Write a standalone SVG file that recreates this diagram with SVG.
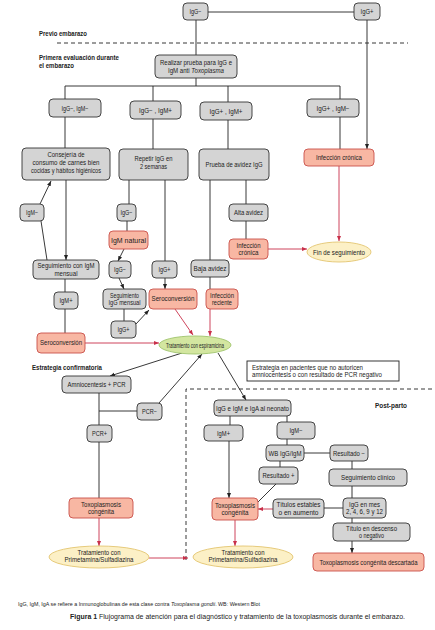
<svg xmlns="http://www.w3.org/2000/svg" width="435" height="630" viewBox="0 0 435 630">
<defs>
<style>
.g{fill:#d4d4d4;stroke:#333;stroke-width:0.9}
.r{fill:#f8b7a3;stroke:#c9504b;stroke-width:0.9}
.y{fill:#fcf0c6;stroke:#e3c570;stroke-width:0.9}
.gr{fill:#d3e6a0;stroke:#9fc46c;stroke-width:0.9}
.w{fill:#fff;stroke:#222;stroke-width:0.9}
text{font-family:"Liberation Sans Narrow","Liberation Sans",Arial,sans-serif;font-size:6.6px;fill:#222}
.c{text-anchor:middle}
.b{font-weight:bold}
.ln{stroke:#222;stroke-width:0.9;fill:none}
.rl{stroke:#c8304a;stroke-width:0.9;fill:none}
.ds{stroke:#222;stroke-width:0.9;fill:none;stroke-dasharray:4 3}
</style>
<marker id="ab" viewBox="0 0 10 10" refX="10" refY="5" markerWidth="5" markerHeight="5" orient="auto" markerUnits="userSpaceOnUse"><path d="M0,1 L10,5 L0,9 z" fill="#222"/></marker>
<marker id="ar" viewBox="0 0 10 10" refX="10" refY="5" markerWidth="5" markerHeight="5" orient="auto" markerUnits="userSpaceOnUse"><path d="M0,1 L10,5 L0,9 z" fill="#c8304a"/></marker>
</defs>
<rect width="435" height="630" fill="#fff"/>

<g id="labels">
<text x="39" y="36" class="b" textLength="48" lengthAdjust="spacingAndGlyphs">Previo embarazo</text>
<text x="39" y="60" class="b" textLength="80" lengthAdjust="spacingAndGlyphs">Primera evaluación durante</text>
<text x="39" y="68" class="b" textLength="35" lengthAdjust="spacingAndGlyphs">el embarazo</text>
<text x="32" y="370" class="b" textLength="70" lengthAdjust="spacingAndGlyphs">Estrategia confirmatoria</text>
<text x="375" y="408" class="b" textLength="32" lengthAdjust="spacingAndGlyphs">Post-parto</text>
<line x1="57" y1="43" x2="408" y2="43" class="ds"/>
<path d="M186,560 L186,389 L432,389" class="ds"/>
</g>

<g id="connectors">
<line x1="208" y1="12" x2="354" y2="12" class="ln"/>
<line x1="367" y1="20" x2="367" y2="149" class="ln" marker-end="url(#ab)"/>
<line x1="196" y1="20" x2="196" y2="55" class="ln"/>
<line x1="196" y1="78" x2="196" y2="86" class="ln"/>
<line x1="65" y1="86" x2="340" y2="86" class="ln"/>
<line x1="65" y1="86" x2="65" y2="99" class="ln"/>
<line x1="153" y1="86" x2="153" y2="101" class="ln"/>
<line x1="228" y1="86" x2="228" y2="102" class="ln"/>
<line x1="340" y1="86" x2="340" y2="99" class="ln"/>
<line x1="65" y1="117" x2="65" y2="148" class="ln"/>
<line x1="153" y1="119" x2="153" y2="149" class="ln"/>
<line x1="228" y1="120" x2="228" y2="149" class="ln"/>
<line x1="340" y1="117" x2="340" y2="149" class="ln"/>
<line x1="339" y1="166" x2="339" y2="241" class="rl" marker-end="url(#ar)"/>
<line x1="246" y1="180" x2="246" y2="204" class="ln"/>
<line x1="246" y1="221" x2="246" y2="239" class="ln"/>
<line x1="268" y1="249" x2="307" y2="249" class="rl" marker-end="url(#ar)"/>
<line x1="210" y1="180" x2="210" y2="260" class="ln"/>
<line x1="210" y1="277" x2="210" y2="289" class="ln"/>
<line x1="210" y1="309" x2="210" y2="336" class="rl" marker-end="url(#ar)"/>
<line x1="175" y1="309" x2="193" y2="335" class="rl" marker-end="url(#ar)"/>
<line x1="66" y1="180" x2="66" y2="260" class="ln" marker-end="url(#ab)"/>
<line x1="40" y1="204" x2="51" y2="181" class="ln" marker-end="url(#ab)"/>
<line x1="41" y1="221" x2="47" y2="260" class="ln"/>
<line x1="65" y1="279" x2="65" y2="292" class="ln"/>
<line x1="65" y1="309" x2="65" y2="333" class="ln"/>
<line x1="85" y1="343" x2="159" y2="343" class="rl" marker-end="url(#ar)"/>
<line x1="129" y1="180" x2="129" y2="204" class="ln"/>
<line x1="127" y1="221" x2="127" y2="231" class="ln"/>
<line x1="124" y1="249" x2="118" y2="261" class="ln" marker-end="url(#ab)"/>
<line x1="119" y1="278" x2="124" y2="289" class="ln" marker-end="url(#ab)"/>
<line x1="124" y1="309" x2="124" y2="321" class="ln"/>
<line x1="136" y1="324" x2="149" y2="310" class="ln" marker-end="url(#ab)"/>
<line x1="165" y1="180" x2="165" y2="261" class="ln"/>
<line x1="165" y1="278" x2="165" y2="289" class="ln" marker-end="url(#ab)"/>
<line x1="182" y1="353" x2="110" y2="376" class="ln" marker-end="url(#ab)"/>
<line x1="99" y1="393" x2="99" y2="425" class="ln"/>
<line x1="99" y1="411" x2="137" y2="411" class="ln"/>
<line x1="159" y1="403" x2="202" y2="354" class="ln" marker-end="url(#ab)"/>
<line x1="99" y1="442" x2="99" y2="498" class="ln"/>
<line x1="99" y1="518" x2="99" y2="546" class="rl" marker-end="url(#ar)"/>
<line x1="149" y1="558" x2="188" y2="558" class="rl" marker-end="url(#ar)"/>
<line x1="218" y1="353" x2="246" y2="400" class="ln" marker-end="url(#ab)"/>
<line x1="230" y1="416" x2="230" y2="425" class="ln"/>
<line x1="229" y1="441" x2="229" y2="498" class="ln" marker-end="url(#ab)"/>
<line x1="287" y1="416" x2="287" y2="422" class="ln"/>
<line x1="287" y1="439" x2="287" y2="445" class="ln"/>
<line x1="304" y1="453" x2="330" y2="453" class="ln"/>
<line x1="280" y1="461" x2="280" y2="467" class="ln"/>
<line x1="276" y1="484" x2="257" y2="503" class="ln"/>
<line x1="352" y1="461" x2="352" y2="469" class="ln"/>
<line x1="352" y1="486" x2="352" y2="498" class="ln"/>
<line x1="352" y1="518" x2="352" y2="523" class="ln"/>
<line x1="352" y1="541" x2="352" y2="553" class="ln" marker-end="url(#ab)"/>
<line x1="343" y1="508" x2="324" y2="508" class="ln"/>
<line x1="273" y1="509" x2="258" y2="509" class="rl" marker-end="url(#ar)"/>
<line x1="235" y1="520" x2="235" y2="546" class="rl" marker-end="url(#ar)"/>
</g>

<g id="n_igg_neg"><rect x="183" y="3" width="25" height="17" rx="4" class="g"/><text x="195.5" y="14" class="c" textLength="12" lengthAdjust="spacingAndGlyphs">IgG−</text></g>
<g id="n_igg_pos"><rect x="354" y="3" width="26" height="17" rx="4" class="g"/><text x="367" y="14" class="c" textLength="13" lengthAdjust="spacingAndGlyphs">IgG+</text></g>
<g id="n_realizar"><rect x="155" y="55" width="82" height="23" rx="4" class="g"/><text x="196" y="65" class="c" textLength="72" lengthAdjust="spacingAndGlyphs">Realizar prueba para IgG e</text><text x="196" y="73" class="c" textLength="56" lengthAdjust="spacingAndGlyphs">IgM anti <tspan font-style="italic">Toxoplasma</tspan></text></g>
<g id="n_b1"><rect x="49" y="99" width="52" height="18" rx="4" class="g"/><text x="75" y="110.5" class="c" textLength="27" lengthAdjust="spacingAndGlyphs">IgG−, IgM−</text></g>
<g id="n_b2"><rect x="130" y="101" width="51" height="18" rx="4" class="g"/><text x="155.5" y="112.5" class="c" textLength="33" lengthAdjust="spacingAndGlyphs">IgG− , IgM+</text></g>
<g id="n_b3"><rect x="200" y="102" width="52" height="18" rx="4" class="g"/><text x="226" y="113.5" class="c" textLength="33" lengthAdjust="spacingAndGlyphs">IgG+ , IgM+</text></g>
<g id="n_b4"><rect x="307" y="99" width="52" height="18" rx="4" class="g"/><text x="333" y="110.5" class="c" textLength="33" lengthAdjust="spacingAndGlyphs">IgG+ , IgM−</text></g>
<g id="n_consejeria"><rect x="22" y="148" width="88" height="32" rx="4" class="g"/><text x="66" y="157" class="c" textLength="37" lengthAdjust="spacingAndGlyphs">Consejería de</text><text x="66" y="165" class="c" textLength="67" lengthAdjust="spacingAndGlyphs">consumo de carnes bien</text><text x="66" y="173" class="c" textLength="70" lengthAdjust="spacingAndGlyphs">cocidas y hábitos higiénicos</text></g>
<g id="n_repetir"><rect x="119" y="149" width="69" height="31" rx="4" class="g"/><text x="153.5" y="161" class="c" textLength="38" lengthAdjust="spacingAndGlyphs">Repetir IgG en</text><text x="153.5" y="169" class="c" textLength="27" lengthAdjust="spacingAndGlyphs">2 semanas</text></g>
<g id="n_prueba"><rect x="199" y="149" width="70" height="31" rx="4" class="g"/><text x="234" y="167" class="c" textLength="57" lengthAdjust="spacingAndGlyphs">Prueba de avidez IgG</text></g>
<g id="n_infcron1"><rect x="304" y="149" width="70" height="17" rx="4" class="r"/><text x="339" y="160" class="c" textLength="46" lengthAdjust="spacingAndGlyphs">Infección crónica</text></g>
<g id="n_fin"><ellipse cx="339" cy="252" rx="32" ry="10" class="y"/><text x="339" y="254.5" class="c" textLength="52" lengthAdjust="spacingAndGlyphs">Fin de seguimiento</text></g>
<g id="n_altaav"><rect x="229" y="204" width="39" height="17" rx="4" class="g"/><text x="248.5" y="215" class="c" textLength="29" lengthAdjust="spacingAndGlyphs">Alta avidez</text></g>
<g id="n_infcron2"><rect x="229" y="239" width="39" height="20" rx="4" class="r"/><text x="248.5" y="247.5" class="c" textLength="24" lengthAdjust="spacingAndGlyphs">Infección</text><text x="248.5" y="255" class="c" textLength="20" lengthAdjust="spacingAndGlyphs">crónica</text></g>
<g id="n_igmneg"><rect x="20" y="204" width="24" height="17" rx="4" class="g"/><text x="32" y="215" class="c" textLength="12" lengthAdjust="spacingAndGlyphs">IgM−</text></g>
<g id="n_segigm"><rect x="33" y="260" width="66" height="19" rx="4" class="g"/><text x="66" y="268" class="c" textLength="57" lengthAdjust="spacingAndGlyphs">Seguimiento con IgM</text><text x="66" y="275.5" class="c" textLength="23" lengthAdjust="spacingAndGlyphs">mensual</text></g>
<g id="n_igmpos"><rect x="54" y="292" width="24" height="17" rx="4" class="g"/><text x="66" y="303" class="c" textLength="13" lengthAdjust="spacingAndGlyphs">IgM+</text></g>
<g id="n_sero1"><rect x="37" y="333" width="48" height="20" rx="4" class="r"/><text x="61" y="345" class="c" textLength="42" lengthAdjust="spacingAndGlyphs">Seroconversión</text></g>
<g id="n_iggneg1"><rect x="117" y="204" width="19" height="17" rx="4" class="g"/><text x="126.5" y="215" class="c" textLength="12" lengthAdjust="spacingAndGlyphs">IgG−</text></g>
<g id="n_igmnat"><rect x="109" y="231" width="39" height="18" rx="4" class="r"/><text x="128.5" y="242.5" class="c" textLength="35" lengthAdjust="spacingAndGlyphs">IgM natural</text></g>
<g id="n_iggneg2"><rect x="109" y="261" width="22" height="17" rx="4" class="g"/><text x="120" y="272" class="c" textLength="12" lengthAdjust="spacingAndGlyphs">IgG−</text></g>
<g id="n_segiggm"><rect x="103" y="289" width="43" height="20" rx="4" class="g"/><text x="124.5" y="297.5" class="c" textLength="29" lengthAdjust="spacingAndGlyphs">Seguimiento</text><text x="124.5" y="305" class="c" textLength="32" lengthAdjust="spacingAndGlyphs">IgG mensual</text></g>
<g id="n_iggpos3"><rect x="111" y="321" width="25" height="17" rx="4" class="g"/><text x="123.5" y="332" class="c" textLength="12" lengthAdjust="spacingAndGlyphs">IgG+</text></g>
<g id="n_iggpos2"><rect x="152" y="261" width="25" height="17" rx="4" class="g"/><text x="164.5" y="272" class="c" textLength="12" lengthAdjust="spacingAndGlyphs">IgG+</text></g>
<g id="n_sero2"><rect x="149" y="289" width="48" height="20" rx="4" class="r"/><text x="173" y="301" class="c" textLength="43" lengthAdjust="spacingAndGlyphs">Seroconversión</text></g>
<g id="n_baja"><rect x="191" y="260" width="38" height="17" rx="4" class="g"/><text x="210" y="271" class="c" textLength="33" lengthAdjust="spacingAndGlyphs">Baja avidez</text></g>
<g id="n_infrec"><rect x="206" y="289" width="32" height="20" rx="4" class="r"/><text x="222" y="297.5" class="c" textLength="24" lengthAdjust="spacingAndGlyphs">Infección</text><text x="222" y="305" class="c" textLength="20" lengthAdjust="spacingAndGlyphs">reciente</text></g>
<g id="n_espir"><ellipse cx="195" cy="345" rx="36" ry="9" class="gr"/><text x="195" y="347.5" class="c" textLength="58" lengthAdjust="spacingAndGlyphs">Tratamiento con espiramicina</text></g>
<g id="n_amnio"><rect x="62" y="376" width="69" height="17" rx="4" class="g"/><text x="96.5" y="387" class="c" textLength="58" lengthAdjust="spacingAndGlyphs">Amniocentesis + PCR</text></g>
<g id="n_pcrneg"><rect x="137" y="403" width="25" height="17" rx="4" class="g"/><text x="149.5" y="414" class="c" textLength="15" lengthAdjust="spacingAndGlyphs">PCR−</text></g>
<g id="n_pcrpos"><rect x="87" y="425" width="25" height="17" rx="4" class="g"/><text x="99.5" y="436" class="c" textLength="15" lengthAdjust="spacingAndGlyphs">PCR+</text></g>
<g id="n_toxo1"><rect x="69" y="498" width="64" height="20" rx="4" class="r"/><text x="101" y="506.5" class="c" textLength="40" lengthAdjust="spacingAndGlyphs">Toxoplasmosis</text><text x="101" y="514" class="c" textLength="26" lengthAdjust="spacingAndGlyphs">congénita</text></g>
<g id="n_trat1"><ellipse cx="99" cy="557" rx="50" ry="11" class="y"/><text x="99" y="554.5" class="c" textLength="43" lengthAdjust="spacingAndGlyphs">Tratamiento con</text><text x="99" y="562" class="c" textLength="69" lengthAdjust="spacingAndGlyphs">Primetamina/Sulfadiazina</text></g>
<g id="n_estrategia"><rect x="247" y="361" width="152" height="20" class="w"/><text x="252" y="369.5" textLength="111" lengthAdjust="spacingAndGlyphs">Estrategia en pacientes que no autoricen</text><text x="252" y="377" textLength="130" lengthAdjust="spacingAndGlyphs">amniocentesis o con resultado de PCR negativo</text></g>
<g id="n_neonato"><rect x="214" y="400" width="77" height="16" rx="4" class="g"/><text x="252.5" y="410.5" class="c" textLength="73" lengthAdjust="spacingAndGlyphs">IgG e IgM e IgA al neonato</text></g>
<g id="n_igmpos_p"><rect x="204" y="425" width="39" height="16" rx="4" class="g"/><text x="223.5" y="435.5" class="c" textLength="13" lengthAdjust="spacingAndGlyphs">IgM+</text></g>
<g id="n_igmneg_p"><rect x="277" y="422" width="38" height="17" rx="4" class="g"/><text x="296" y="433" class="c" textLength="13" lengthAdjust="spacingAndGlyphs">IgM−</text></g>
<g id="n_wb"><rect x="266" y="445" width="38" height="16" rx="4" class="g"/><text x="285" y="455.5" class="c" textLength="33" lengthAdjust="spacingAndGlyphs">WB IgG/IgM</text></g>
<g id="n_resneg"><rect x="330" y="445" width="38" height="16" rx="4" class="g"/><text x="349" y="455.5" class="c" textLength="32" lengthAdjust="spacingAndGlyphs">Resultado −</text></g>
<g id="n_respos"><rect x="259" y="467" width="39" height="17" rx="4" class="g"/><text x="278.5" y="478" class="c" textLength="32" lengthAdjust="spacingAndGlyphs">Resultado +</text></g>
<g id="n_seguimclin"><rect x="329" y="469" width="78" height="17" rx="4" class="g"/><text x="368" y="480" class="c" textLength="54" lengthAdjust="spacingAndGlyphs">Seguimiento clínico</text></g>
<g id="n_toxo2"><rect x="212" y="498" width="46" height="22" rx="4" class="r"/><text x="235" y="507.5" class="c" textLength="40" lengthAdjust="spacingAndGlyphs">Toxoplasmosis</text><text x="235" y="515" class="c" textLength="27" lengthAdjust="spacingAndGlyphs">congénita</text></g>
<g id="n_titulos"><rect x="273" y="499" width="51" height="19" rx="4" class="g"/><text x="298.5" y="507" class="c" textLength="44" lengthAdjust="spacingAndGlyphs">Títulos estables</text><text x="298.5" y="514.5" class="c" textLength="40" lengthAdjust="spacingAndGlyphs">o en aumento</text></g>
<g id="n_iggmes"><rect x="343" y="498" width="43" height="20" rx="4" class="g"/><text x="364.5" y="506.5" class="c" textLength="31" lengthAdjust="spacingAndGlyphs">IgG en mes</text><text x="364.5" y="514" class="c" textLength="37" lengthAdjust="spacingAndGlyphs">2, 4, 6, 9 y 12</text></g>
<g id="n_titulodesc"><rect x="333" y="523" width="77" height="18" rx="4" class="g"/><text x="371.5" y="530.5" class="c" textLength="51" lengthAdjust="spacingAndGlyphs">Título en descenso</text><text x="371.5" y="538" class="c" textLength="25" lengthAdjust="spacingAndGlyphs">o negativo</text></g>
<g id="n_trat2"><ellipse cx="243" cy="557" rx="50" ry="11" class="y"/><text x="243" y="554.5" class="c" textLength="43" lengthAdjust="spacingAndGlyphs">Tratamiento con</text><text x="243" y="562" class="c" textLength="69" lengthAdjust="spacingAndGlyphs">Primetamina/Sulfadiazina</text></g>
<g id="n_descartada"><rect x="313" y="553" width="111" height="18" rx="4" class="r"/><text x="368.5" y="564.5" class="c" textLength="98" lengthAdjust="spacingAndGlyphs">Toxoplasmosis congénita descartada</text></g>

<g id="footer">
<text x="18" y="606" style="font-size:5.4px" textLength="242" lengthAdjust="spacingAndGlyphs">IgG, IgM, IgA se refiere a Inmunoglobulinas de esta clase contra <tspan font-style="italic">Toxoplasma gondii</tspan>. WB: Western Blot</text>
<text x="70" y="619" style="font-size:6.6px;font-family:'Liberation Sans',Arial,sans-serif" textLength="335" lengthAdjust="spacingAndGlyphs"><tspan font-weight="bold">Figura 1</tspan> Flujograma de atención para el diagnóstico y tratamiento de la toxoplasmosis durante el embarazo.</text>
</g>
</svg>
